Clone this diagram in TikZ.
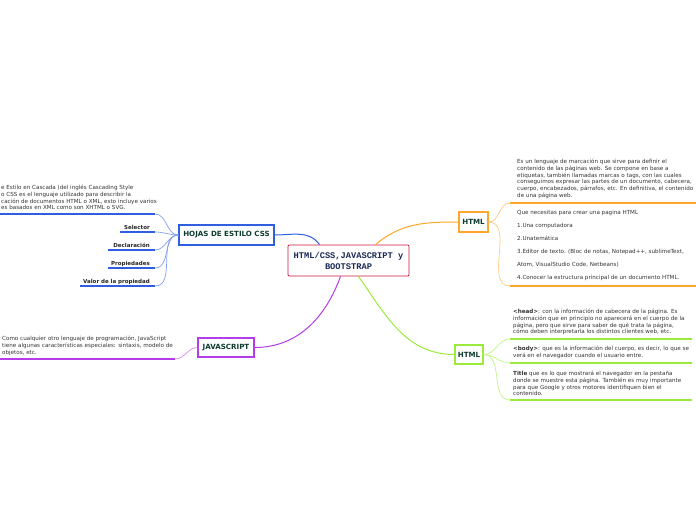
\documentclass[tikz,border=0pt]{standalone}
\usepackage{fontspec}
\setmainfont{DejaVu Sans}
\setmonofont{Liberation Mono}
\usetikzlibrary{positioning}
\definecolor{cssblue}{HTML}{2F5FE0}
\definecolor{htmlorange}{HTML}{FFA62B}
\definecolor{htmlgreen}{HTML}{9AEB3C}
\definecolor{jspurple}{HTML}{B43CEB}
\definecolor{rootred}{HTML}{C8193C}
\definecolor{labelgreen}{HTML}{0E3B30}
\definecolor{roottext}{HTML}{1B2A55}
\definecolor{bodytext}{HTML}{333333}
\tikzset{x=1pt, y=-1pt,
	topic/.style={draw, line width=1.1pt, fill=white, inner sep=0pt, text=labelgreen, font=\fontsize{7.1}{8}\selectfont\bfseries},
	note/.style={inner sep=0pt, text=bodytext, align=left, anchor=north west, font=\fontsize{5.6}{6.7}\selectfont},
	tag/.style={inner sep=0pt, text=black!85, anchor=base east, font=\fontsize{5.5}{6}\selectfont\bfseries},
	stem/.style={line width=0.7pt},
	underline/.style={line width=1.6pt}}

\begin{document}
\begin{tikzpicture}
	\useasboundingbox (0,0) rectangle (696,520);
	\node[draw=rootred, line width=0.8pt, rounded corners=1pt, fill=white, minimum width=121, minimum height=31, align=center, text=roottext, font=\fontsize{8.7}{11}\selectfont\ttfamily\bfseries] (root) at (348.5,260.5) {HTML/CSS,JAVASCRIPT y\\BOOTSTRAP};
	\node[topic, draw=cssblue, minimum width=95, minimum height=20] (css) at (226.5,235) {HOJAS DE ESTILO CSS};
	\node[topic, draw=jspurple, minimum width=56, minimum height=19] (js) at (226,347.5) {JAVASCRIPT};
	\node[topic, draw=htmlorange, minimum width=29, minimum height=20] (htmlA) at (473.5,222) {HTML};
	\node[topic, draw=htmlgreen, minimum width=28, minimum height=19] (htmlB) at (469,354.5) {HTML};

	% main branches
	\draw[cssblue, line width=1pt] ([xshift=-29pt]root.north) to[out=125, in=0] (css.east);
	\draw[htmlorange, line width=1pt] ([xshift=27pt]root.north) to[out=40, in=180] (htmlA.west);
	\draw[htmlgreen, line width=1pt] ([xshift=10pt]root.south) to[out=-55, in=180] (htmlB.west);
	\draw[jspurple, line width=1pt] ([xshift=-8pt]root.south) to[out=-110, in=0] (js.east);

	% hojas de estilo
	\coordinate (cssS) at (0,214);
	\coordinate (cssE) at (155,214);
	\node[note] (cssNote) at (1,185) {e Estilo en Cascada (del inglés Cascading Style\\o CSS es el lenguaje utilizado para describir la\\cación de documentos HTML o XML, esto incluye varios\\es basados en XML como son XHTML o SVG.};
	\draw[underline, cssblue] (cssS) -- (cssE);
	\draw[stem, cssblue!60] (css.west) to[out=180, in=0] (cssE);
	\foreach \lbl/\yy/\xs [count=\i] in {Selector/232/120, Declaración/250/108, Propiedades/268/108, Valor de la propiedad/286/80}{
		\coordinate (tagS\i) at (\xs,\yy);
		\coordinate (tagE\i) at (155,\yy);
		\node[tag] (tag\i) at (150,\yy-3) {\lbl};
		\draw[underline, cssblue] (tagS\i) -- (tagE\i);
		\draw[stem, cssblue!60] (css.west) to[out=180, in=0] (tagE\i);
	}

	% javascript
	\coordinate (jsS) at (0,359);
	\coordinate (jsE) at (175,359);
	\node[note] (jsNote) at (2,336) {Como cualquier otro lenguaje de programación, JavaScript\\tiene algunas características especiales: sintaxis, modelo de\\objetos, etc.};
	\draw[underline, jspurple] (jsS) -- (jsE);
	\draw[stem, jspurple!60] (js.west) to[out=180, in=0] (jsE);

	% html (naranja)
	\coordinate (oa1) at (510,203);
	\coordinate (ob1) at (696,203);
	\coordinate (oa2) at (510,286);
	\coordinate (ob2) at (696,286);
	\node[note] (defNote) at (517,159) {Es un lenguaje de marcación que sirve para definir el\\contenido de las páginas web. Se compone en base a\\etiquetas, también llamadas marcas o tags, con las cuales\\conseguimos expresar las partes de un documento, cabecera,\\cuerpo, encabezados, párrafos, etc. En definitiva, el contenido\\de una página web.};
	\node[note, font=\fontsize{5.6}{13}\selectfont] (listNote) at (517,210) {Que necesitas para crear una pagina HTML\\1.Una computadora\\2.Unatemática\\3.Editor de texto. (Bloc de notas, Notepad++, sublimeText,\\Atom, VisualStudio Code, Netbeans)\\4.Conocer la estructura principal de un documento HTML.};
	\foreach \i in {1,2}{
		\draw[underline, htmlorange] (oa\i) -- (ob\i);
		\draw[stem, htmlorange!60] (htmlA.east) to[out=0, in=180] (oa\i);
	}

	% html (verde)
	\coordinate (ga1) at (510,339);
	\coordinate (gb1) at (692,339);
	\coordinate (ga2) at (510,363);
	\coordinate (gb2) at (692,363);
	\coordinate (ga3) at (510,400);
	\coordinate (gb3) at (692,400);
	\node[note] (headNote) at (513,309) {\textbf{<head>}: con la información de cabecera de la página. Es\\información que en principio no aparecerá en el cuerpo de la\\página, pero que sirve para saber de qué trata la página,\\cómo deben interpretarla los distintos clientes web, etc.};
	\node[note] (bodyNote) at (513,346) {\textbf{<body>}: que es la información del cuerpo, es decir, lo que se\\verá en el navegador cuando el usuario entre.};
	\node[note] (titleNote) at (513,371) {\textbf{Title} que es lo que mostrará el navegador en la pestaña\\donde se muestre esta página. También es muy importante\\para que Google y otros motores identifiquen bien el\\contenido.};
	\foreach \i in {1,2,3}{
		\draw[underline, htmlgreen] (ga\i) -- (gb\i);
		\draw[stem, htmlgreen!60] (htmlB.east) to[out=0, in=180] (ga\i);
	}
\end{tikzpicture}
\end{document}
